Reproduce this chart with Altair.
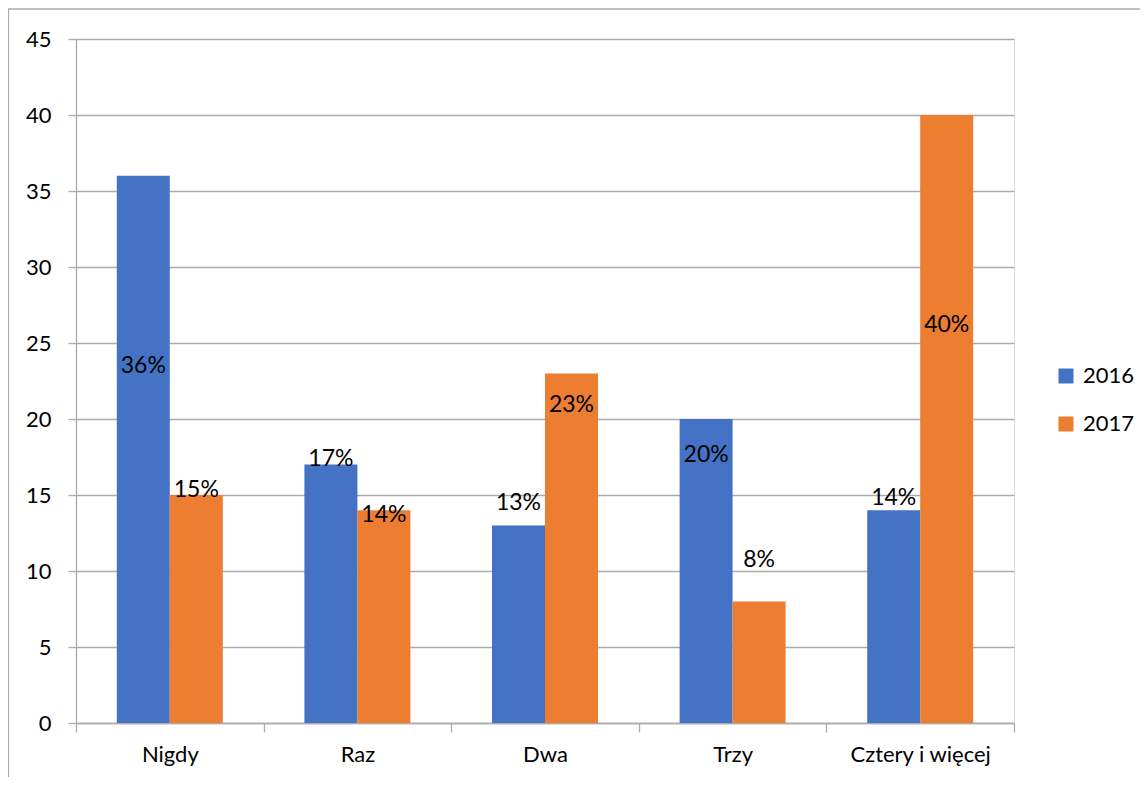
import altair as alt
import pandas as pd

categories = ["Nigdy", "Raz", "Dwa", "Trzy", "Cztery i więcej"]
years = ["2016", "2017"]
values_2016 = [36, 17, 13, 20, 14]
values_2017 = [15, 14, 23, 8, 40]
# where Excel placed each data label (in axis units)
label_y_2016 = [23.5, 17.4, 14.5, 17.6, 14.8]
label_y_2017 = [15.3, 13.7, 20.9, 10.7, 26.2]
colors = ["#4472C4", "#ED7D31"]

rows = []
for i, c in enumerate(categories):
    rows.append({"cat": c, "year": "2016", "value": values_2016[i],
                 "label": f"{values_2016[i]}%", "ly": label_y_2016[i]})
    rows.append({"cat": c, "year": "2017", "value": values_2017[i],
                 "label": f"{values_2017[i]}%", "ly": label_y_2017[i]})
df = pd.DataFrame(rows)

FONT = "Lato"
GRID = "#ABABAB"

x_enc = alt.X("cat:N", sort=categories, title=None,
              scale=alt.Scale(paddingInner=0, paddingOuter=0),
              axis=alt.Axis(labelAngle=0, tickBand="extent", domainColor=GRID,
                            tickColor=GRID, tickSize=9, labelFontSize=22,
                            labelFont=FONT, labelColor="#000000", labelPadding=12,
                            domainWidth=1.3, tickWidth=1.3, grid=False))
xoff = alt.XOffset("year:N", sort=years,
                   scale=alt.Scale(paddingInner=0, paddingOuter=0.77))

bars = alt.Chart(df).mark_bar().encode(
    x=x_enc,
    xOffset=xoff,
    y=alt.Y("value:Q", title=None,
            scale=alt.Scale(domain=[0, 45], nice=False),
            axis=alt.Axis(values=list(range(0, 46, 5)), gridColor=GRID, gridWidth=1.3,
                          domainColor=GRID, domainWidth=1.3, tickColor=GRID, tickWidth=1.3,
                          tickSize=8, labelFontSize=22, labelFont=FONT,
                          labelColor="#000000", labelPadding=17)),
    color=alt.Color("year:N", sort=years, title=None,
                    scale=alt.Scale(domain=years, range=colors),
                    legend=alt.Legend(orient="none", legendX=979, legendY=326,
                                      symbolType="square", symbolSize=225,
                                      symbolStrokeWidth=0, labelFontSize=22,
                                      labelFont=FONT, labelColor="#000000",
                                      labelOffset=6, rowPadding=26, padding=0)),
)

labels = alt.Chart(df).mark_text(fontSize=23, font=FONT, color="#000000",
                                 baseline="middle", align="center").encode(
    x=alt.X("cat:N", sort=categories),
    xOffset=alt.XOffset("year:N", sort=years),
    y=alt.Y("ly:Q"),
    text="label:N",
)

frame = alt.Chart(pd.DataFrame({"a": [0]})).mark_rect(
    fillOpacity=0, stroke=GRID, strokeWidth=1.3).encode(
    x=alt.value(-67.5), x2=alt.value(3000), y=alt.value(-30), y2=alt.value(3000))

chart = alt.layer(frame, bars, labels).properties(
    width=938, height=684,
    autosize=alt.AutoSizeParams(type="none"),
    padding={"left": 68, "top": 31, "right": 126, "bottom": 54},
).configure_view(stroke=None).configure(font=FONT)

chart.save("out.html", embed_options={"renderer": "svg", "actions": False})
